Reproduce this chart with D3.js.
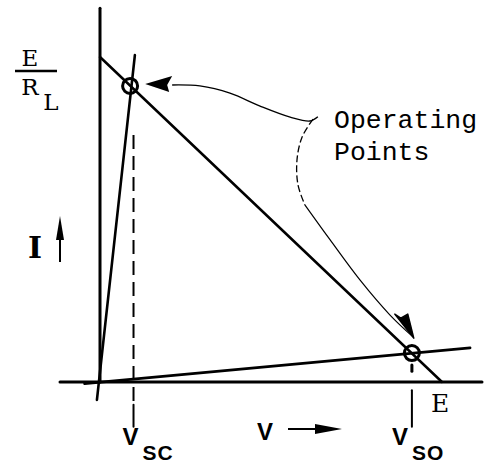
<!DOCTYPE html>
<html>
<head>
<meta charset="utf-8">
<script src="https://cdn.jsdelivr.net/npm/d3@7"></script>
<style>
  body { margin: 0; background: #fff; }
  svg { display: block; }
  .mono { font-family: "Liberation Mono", "DejaVu Sans Mono", monospace; }
  .serif { font-family: "DejaVu Serif", "Liberation Serif", serif; }
  .sans { font-family: "Liberation Sans", "DejaVu Sans", sans-serif; font-weight: bold; }
</style>
</head>
<body>
<div id="chart"></div>
<script>
// values in chart units: V from 0..E (=100), I from 0..E/RL (=100)
var axisV = [[0, 0], [0, 115]];            // current axis
var axisH = [[-11.7, 0], [111.7, 0]];      // voltage axis
var loadLine = [[0, 100], [100, 0]];       // E/RL -> E
var scLine = [[-0.9, -5.5], [10.2, 100.6]];  // short-circuit characteristic
var ocLine = [[-4.5, -0.5], [108.2, 10.5]];  // open-circuit characteristic
var opPoints = [[8.8, 91.1], [91.2, 8.9]];
var vsc = 9.8, vso = 91.2;
var labelOperating = ["Operating", "Points"];

// annotation curves (chart units)
var callout1 = [[21.1, 91.4], [29.2, 91.1], [38.0, 88.9], [46.8, 84.9], [55.6, 81.5], [61.4, 80.3], [63.7, 81.6]];
var callout2a = [[62.3, 80.9], [59.1, 75.4], [57.6, 68.3], [57.9, 60.6], [59.9, 54.5]];
var callout2b = [[59.9, 54.5], [67.3, 43.7], [76.0, 31.4], [84.8, 20.6], [91.6, 13.8]];

var width = 494, height = 464;

var svg = d3.select("#chart")
    .append("svg")
    .attr("width", width)
    .attr("height", height);

var x = d3.scaleLinear().domain([0, 100]).range([100, 442]);
var y = d3.scaleLinear().domain([0, 100]).range([382, 57]);

var line = d3.line()
    .x(function (d) { return x(d[0]); })
    .y(function (d) { return y(d[1]); });

var curve = d3.line()
    .x(function (d) { return x(d[0]); })
    .y(function (d) { return y(d[1]); })
    .curve(d3.curveCatmullRom);

function draw(pts, w) {
    svg.append("path")
        .attr("d", line(pts))
        .attr("fill", "none")
        .attr("stroke", "#000")
        .attr("stroke-width", w)
        .attr("stroke-linecap", "round");
}

// axes
draw(axisV, 3);
draw(axisH, 3);

// characteristics
draw(loadLine, 2.5);
draw(scLine, 2.6);
draw(ocLine, 2.8);

// dashed drop line at Vsc
svg.append("path")
    .attr("d", line([[vsc, 76], [vsc, -6]]))
    .attr("stroke", "#000").attr("stroke-width", 2)
    .attr("stroke-dasharray", "14,7").attr("fill", "none");
draw([[vsc, -7], [vsc, -13.8]], 2);

// drop marks at Vso
draw([[vso, -2.5], [vso, -13.8]], 2);
svg.append("path")
    .attr("d", line([[vso, 5.2], [vso, 3.3]]))
    .attr("stroke", "#000").attr("stroke-width", 3).attr("fill", "none")
    .attr("stroke-linecap", "round");

// operating points
svg.selectAll("circle.op")
    .data(opPoints)
    .enter().append("circle")
    .attr("class", "op")
    .attr("cx", function (d) { return x(d[0]); })
    .attr("cy", function (d) { return y(d[1]); })
    .attr("r", 7.5)
    .attr("fill", "none")
    .attr("stroke", "#000")
    .attr("stroke-width", 3);

// callout curves
svg.append("path").attr("d", curve(callout1))
    .attr("fill", "none").attr("stroke", "#000").attr("stroke-width", 1.4);
svg.append("path").attr("d", curve(callout2a))
    .attr("fill", "none").attr("stroke", "#000").attr("stroke-width", 1.3)
    .attr("stroke-dasharray", "7,3");
svg.append("path").attr("d", curve(callout2b))
    .attr("fill", "none").attr("stroke", "#000").attr("stroke-width", 1.2);

// arrowhead at left operating point (filled)
var t1 = [x(callout1[0][0]) - 27, y(callout1[0][1]) - 1];
svg.append("path")
    .attr("d", "M" + t1[0] + "," + t1[1] +
        "L" + (t1[0] + 27) + "," + (t1[1] - 8) +
        "L" + (t1[0] + 22) + "," + (t1[1] + 1) +
        "L" + (t1[0] + 24) + "," + (t1[1] + 8) + "Z")
    .attr("fill", "#000");

// arrowhead at right operating point
var t2 = callout2b[callout2b.length - 1];
var tx = x(t2[0]) + 0.5, ty = y(t2[1]) + 1;
svg.append("path")
    .attr("d", "M" + tx + "," + ty + "L" + (tx - 19) + "," + (ty - 24) +
        "L" + (tx - 13) + "," + (ty - 20) +
        "L" + (tx - 6) + "," + (ty - 24) + "Z")
    .attr("fill", "#000").attr("stroke", "#000").attr("stroke-width", 1.5)
    .attr("stroke-linejoin", "round");

// E / RL label
svg.append("text").attr("class", "serif").attr("x", 30).attr("y", 66)
    .attr("text-anchor", "middle").attr("font-size", 23).text("E");
svg.append("line").attr("x1", 15).attr("x2", 57).attr("y1", 71).attr("y2", 71)
    .attr("stroke", "#000").attr("stroke-width", 2.5);
svg.append("text").attr("class", "serif").attr("x", 30).attr("y", 95)
    .attr("text-anchor", "middle").attr("font-size", 23).text("R");
svg.append("text").attr("class", "serif").attr("x", 51).attr("y", 110)
    .attr("text-anchor", "middle").attr("font-size", 23).text("L");

// I with arrow
svg.append("text").attr("class", "serif").attr("x", 35).attr("y", 258)
    .attr("text-anchor", "middle").attr("font-size", 30).attr("font-weight", "bold").text("I");
svg.append("line").attr("x1", 60).attr("x2", 60).attr("y1", 262).attr("y2", 232)
    .attr("stroke", "#000").attr("stroke-width", 2);
svg.append("path").attr("d", "M60,216 L64,240 L56,240 Z").attr("fill", "#000");

// Operating Points
svg.selectAll("text.op")
    .data(labelOperating)
    .enter().append("text")
    .attr("class", "mono")
    .attr("x", 334)
    .attr("y", function (d, i) { return 128 + i * 32; })
    .attr("font-size", 26.5)
    .text(function (d) { return d; });

// E on voltage axis
svg.append("text").attr("class", "serif").attr("x", x(100) - 2).attr("y", 412)
    .attr("text-anchor", "middle").attr("font-size", 25).text("E");

// Vsc, Vso
function vlabel(xc, sub) {
    svg.append("text").attr("class", "sans").attr("x", xc).attr("y", 445)
        .attr("text-anchor", "middle").attr("font-size", 24).text("V");
    svg.append("text").attr("class", "sans").attr("x", xc + 12).attr("y", 460)
        .attr("font-size", 21).attr("letter-spacing", 1).text(sub);
}
vlabel(x(vsc) - 3, "SC");
vlabel(x(vso) - 12, "SO");

// V with arrow
svg.append("text").attr("class", "sans").attr("x", 265).attr("y", 440)
    .attr("text-anchor", "middle").attr("font-size", 24).text("V");
svg.append("line").attr("x1", 288).attr("x2", 318).attr("y1", 429).attr("y2", 429)
    .attr("stroke", "#000").attr("stroke-width", 2);
svg.append("path").attr("d", "M342,429 L315,424 L315,434 Z").attr("fill", "#000");
</script>
</body>
</html>
